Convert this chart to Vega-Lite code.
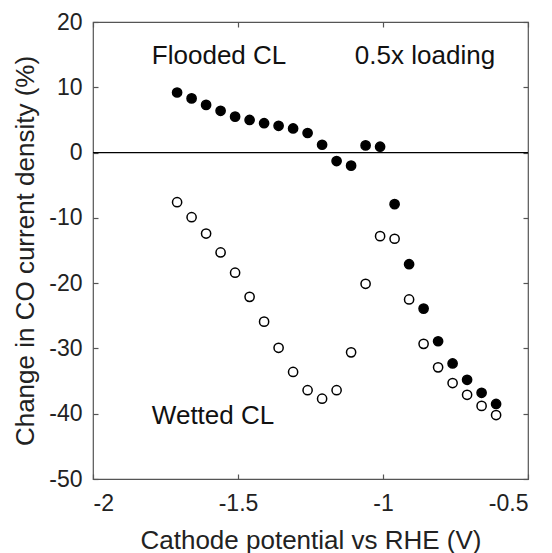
{
  "$schema": "https://vega.github.io/schema/vega-lite/v6.json",
  "autosize": {"type": "none"},
  "padding": {"left": 93, "top": 22, "right": 24, "bottom": 74},
  "width": 435,
  "height": 457,
  "background": "white",
  "config": {
    "view": {"stroke": "#555555", "strokeWidth": 1.2},
    "font": "Liberation Sans",
    "axis": {
      "grid": false,
      "domain": false,
      "offset": -5,
      "tickColor": "#555555",
      "tickWidth": 1.2,
      "tickSize": 5,
      "labelFont": "Liberation Sans",
      "labelFontSize": 23,
      "labelColor": "#222222",
      "titleFont": "Liberation Sans",
      "titleFontSize": 26,
      "titleFontWeight": "normal",
      "titleColor": "#222222"
    }
  },
  "resolve": {"axis": {"x": "independent", "y": "independent"}},
  "datasets": {
    "pts": [
      {"v": -1.71, "c": 9.2, "s": "Flooded CL"},
      {"v": -1.66, "c": 8.3, "s": "Flooded CL"},
      {"v": -1.61, "c": 7.3, "s": "Flooded CL"},
      {"v": -1.56, "c": 6.4, "s": "Flooded CL"},
      {"v": -1.51, "c": 5.5, "s": "Flooded CL"},
      {"v": -1.46, "c": 5.0, "s": "Flooded CL"},
      {"v": -1.41, "c": 4.5, "s": "Flooded CL"},
      {"v": -1.36, "c": 4.1, "s": "Flooded CL"},
      {"v": -1.31, "c": 3.7, "s": "Flooded CL"},
      {"v": -1.26, "c": 3.0, "s": "Flooded CL"},
      {"v": -1.21, "c": 1.2, "s": "Flooded CL"},
      {"v": -1.16, "c": -1.3, "s": "Flooded CL"},
      {"v": -1.11, "c": -2.0, "s": "Flooded CL"},
      {"v": -1.06, "c": 1.1, "s": "Flooded CL"},
      {"v": -1.01, "c": 0.9, "s": "Flooded CL"},
      {"v": -0.96, "c": -7.9, "s": "Flooded CL"},
      {"v": -0.91, "c": -17.1, "s": "Flooded CL"},
      {"v": -0.86, "c": -23.9, "s": "Flooded CL"},
      {"v": -0.81, "c": -28.9, "s": "Flooded CL"},
      {"v": -0.76, "c": -32.3, "s": "Flooded CL"},
      {"v": -0.71, "c": -34.8, "s": "Flooded CL"},
      {"v": -0.66, "c": -36.8, "s": "Flooded CL"},
      {"v": -0.61, "c": -38.5, "s": "Flooded CL"},
      {"v": -1.71, "c": -7.6, "s": "Wetted CL"},
      {"v": -1.66, "c": -9.9, "s": "Wetted CL"},
      {"v": -1.61, "c": -12.4, "s": "Wetted CL"},
      {"v": -1.56, "c": -15.3, "s": "Wetted CL"},
      {"v": -1.51, "c": -18.4, "s": "Wetted CL"},
      {"v": -1.46, "c": -22.1, "s": "Wetted CL"},
      {"v": -1.41, "c": -25.9, "s": "Wetted CL"},
      {"v": -1.36, "c": -29.9, "s": "Wetted CL"},
      {"v": -1.31, "c": -33.6, "s": "Wetted CL"},
      {"v": -1.26, "c": -36.4, "s": "Wetted CL"},
      {"v": -1.21, "c": -37.7, "s": "Wetted CL"},
      {"v": -1.16, "c": -36.4, "s": "Wetted CL"},
      {"v": -1.11, "c": -30.6, "s": "Wetted CL"},
      {"v": -1.06, "c": -20.1, "s": "Wetted CL"},
      {"v": -1.01, "c": -12.8, "s": "Wetted CL"},
      {"v": -0.96, "c": -13.2, "s": "Wetted CL"},
      {"v": -0.91, "c": -22.5, "s": "Wetted CL"},
      {"v": -0.86, "c": -29.3, "s": "Wetted CL"},
      {"v": -0.81, "c": -32.9, "s": "Wetted CL"},
      {"v": -0.76, "c": -35.3, "s": "Wetted CL"},
      {"v": -0.71, "c": -37.1, "s": "Wetted CL"},
      {"v": -0.66, "c": -38.8, "s": "Wetted CL"},
      {"v": -0.61, "c": -40.2, "s": "Wetted CL"}
    ],
    "notes": [
      {"v": -1.797, "c": 14.8, "t": "Flooded CL"},
      {"v": -1.097, "c": 14.8, "t": "0.5x loading"},
      {"v": -1.797, "c": -40.3, "t": "Wetted CL"}
    ]
  },
  "layer": [
    {
      "data": {"values": [{"c": 0}]},
      "mark": {"type": "rule", "color": "black", "strokeWidth": 1.3},
      "encoding": {
        "y": {"field": "c", "type": "quantitative", "scale": {"domain": [-50, 20], "nice": false, "zero": false}, "axis": null}
      }
    },
    {
      "data": {"name": "pts"},
      "mark": {"type": "point", "shape": "circle", "opacity": 0},
      "encoding": {
        "x": {"field": "v", "type": "quantitative",
              "scale": {"domain": [-2, -0.5], "nice": false, "zero": false},
              "axis": {"orient": "top", "values": [-2, -1.5, -1, -0.5], "labels": false, "title": ""}},
        "y": {"field": "c", "type": "quantitative",
              "scale": {"domain": [-50, 20], "nice": false, "zero": false},
              "axis": {"orient": "right", "values": [-50, -40, -30, -20, -10, 0, 10, 20], "labels": false, "title": ""}}
      }
    },
    {
      "data": {"name": "pts"},
      "mark": {"type": "point", "shape": "circle", "filled": true, "size": 85, "stroke": "black", "strokeWidth": 1.5, "opacity": 1},
      "encoding": {
        "x": {"field": "v", "type": "quantitative",
              "scale": {"domain": [-2, -0.5], "nice": false, "zero": false},
              "axis": {"orient": "bottom", "values": [-2, -1.5, -1, -0.5], "labelExpr": "'' + datum.value", "labelPadding": 13, "title": "Cathode potential vs RHE (V)", "titleBaseline": "alphabetic", "titleY": 74}},
        "y": {"field": "c", "type": "quantitative",
              "scale": {"domain": [-50, 20], "nice": false, "zero": false},
              "axis": {"orient": "left", "values": [-50, -40, -30, -20, -10, 0, 10, 20], "labelExpr": "'' + datum.value", "labelPadding": 11, "title": "Change in CO current density (%)", "titleBaseline": "alphabetic", "titleX": -65, "titleAngle": 270}},
        "fill": {"field": "s", "type": "nominal", "scale": {"domain": ["Flooded CL", "Wetted CL"], "range": ["black", "white"]}, "legend": null}
      }
    },
    {
      "data": {"name": "notes"},
      "mark": {"type": "text", "align": "left", "baseline": "middle", "fontSize": 26, "font": "Liberation Sans", "color": "#111111"},
      "encoding": {
        "x": {"field": "v", "type": "quantitative", "axis": null},
        "y": {"field": "c", "type": "quantitative", "axis": null},
        "text": {"field": "t"}
      }
    }
  ]
}
